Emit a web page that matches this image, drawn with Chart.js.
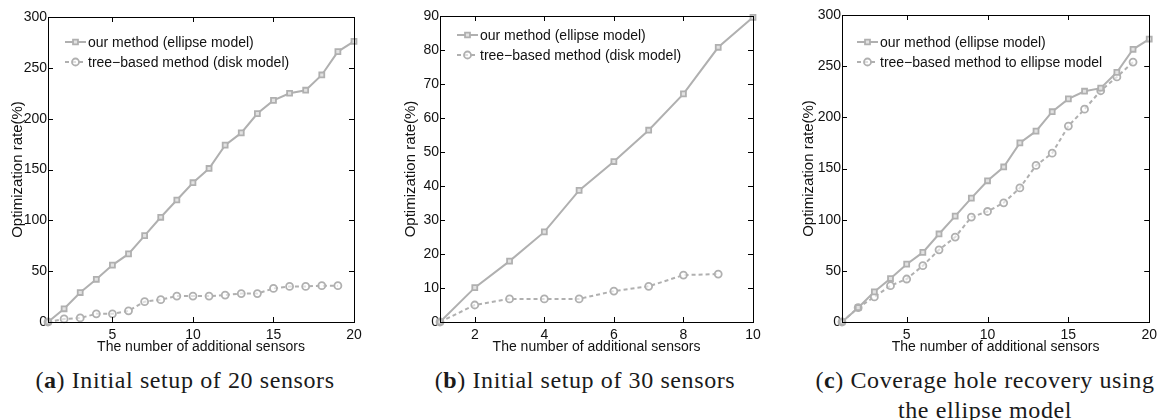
<!DOCTYPE html>
<html>
<head>
<meta charset="utf-8">
<script src="https://cdn.jsdelivr.net/npm/chart.js@4/dist/chart.umd.min.js"></script>
<style>
    body { margin: 0; background: #fff; width: 1162px; height: 420px; position: relative; overflow: hidden; }
    .panel { position: absolute; top: 0; height: 360px; }
    .caption { position: absolute; top: 365px; font-family: "Liberation Serif", serif; font-size: 24px; line-height: 30px; letter-spacing: 0.6px; color: #1a1a1a; text-align: center; white-space: nowrap; }
</style>
</head>
<body>
<div class="panel" style="left:0; width:370px;"><canvas id="chartA"></canvas></div>
<div class="panel" style="left:390px; width:380px;"><canvas id="chartB"></canvas></div>
<div class="panel" style="left:780px; width:382px;"><canvas id="chartC"></canvas></div>
<div class="caption" style="left:25px; width:320px;">(<b>a</b>) Initial setup of 20 sensors</div>
<div class="caption" style="left:425px; width:320px;">(<b>b</b>) Initial setup of 30 sensors</div>
<div class="caption" style="left:800px; width:370px;">(<b>c</b>) Coverage hole recovery using<br>the ellipse model</div>
<script>
// data
const sensors20 = [1, 2, 3, 4, 5, 6, 7, 8, 9, 10, 11, 12, 13, 14, 15, 16, 17, 18, 19, 20];
const sensors10 = [1, 2, 3, 4, 5, 6, 7, 8, 9, 10];

const ourA = [0, 13, 29, 42, 56, 67, 85, 103, 120, 137, 151, 174, 186, 205, 218, 225, 228, 243, 266, 276];
const treeA = [0, 3, 4, 8, 8, 11, 20, 22, 25.5, 25.5, 25.5, 26.5, 28, 28, 33, 35, 35, 35.7, 35.7];

const ourB = [0, 10.1, 17.9, 26.5, 38.7, 47.2, 56.4, 67.1, 80.8, 89.6];
const treeB = [0, 5, 6.8, 6.8, 6.8, 9.1, 10.5, 13.8, 14.1];

const ourC = [0, 14, 29.5, 42.5, 56.5, 68, 86, 103.5, 121, 138, 151.5, 175, 186.5, 205.5, 218, 225.5, 228.5, 244, 266.5, 276.5];
const treeC = [0, 14, 24.5, 35.5, 42, 55, 70.5, 83, 102.5, 108, 116.5, 131, 153, 165, 191.5, 208, 226, 239.5, 254];

const xTicks20 = [5, 10, 15, 20];
const xTicks10 = [2, 4, 6, 8, 10];
const yTicks300 = [0, 50, 100, 150, 200, 250, 300];
const yTicks90 = [0, 10, 20, 30, 40, 50, 60, 70, 80, 90];

const labelOur = "our method (ellipse model)";
const labelTreeDisk = "tree\u2212based method (disk model)";
const labelTreeEllipse = "tree\u2212based method to ellipse model";
const xTitle = "The number of additional sensors";
const yTitle = "Optimization rate(%)";

const GRAY = "#b0b0b0";
const FONT = "'Liberation Sans', Arial, sans-serif";

function pairs(xs, ys) {
    return ys.map((y, i) => ({ x: xs[i], y: y }));
}

// box with inward tick marks on all four sides (matlab look)
const framePlugin = {
    id: "frame",
    afterDraw(chart) {
        const { ctx, chartArea: a, scales } = chart;
        const len = 5;
        ctx.save();
        ctx.strokeStyle = "#000";
        ctx.lineWidth = 1;
        ctx.beginPath();
        scales.x.ticks.forEach(t => {
            const px = Math.round(scales.x.getPixelForValue(t.value)) + 0.5;
            ctx.moveTo(px, a.bottom); ctx.lineTo(px, a.bottom - len);
            ctx.moveTo(px, a.top); ctx.lineTo(px, a.top + len);
        });
        scales.y.ticks.forEach(t => {
            const py = Math.round(scales.y.getPixelForValue(t.value)) + 0.5;
            ctx.moveTo(a.left, py); ctx.lineTo(a.left + len, py);
            ctx.moveTo(a.right, py); ctx.lineTo(a.right - len, py);
        });
        ctx.stroke();
        ctx.strokeRect(Math.round(a.left) + 0.5, Math.round(a.top) + 0.5, Math.round(a.right - a.left), Math.round(a.bottom - a.top));
        ctx.restore();
    }
};

// legend drawn inside the plot, no box
const insideLegend = {
    id: "insideLegend",
    afterDatasetsDraw(chart, args, opts) {
        const { ctx, chartArea: a } = chart;
        ctx.save();
        chart.data.datasets.forEach((ds, i) => {
            const y = a.top + opts.y + i * opts.gap;
            const x0 = a.left + opts.x;
            const x1 = x0 + 21;
            ctx.strokeStyle = ds.borderColor;
            ctx.lineWidth = ds.borderWidth;
            ctx.setLineDash(ds.borderDash || []);
            ctx.beginPath();
            ctx.moveTo(x0, y); ctx.lineTo(x1, y);
            ctx.stroke();
            ctx.setLineDash([]);
            ctx.lineWidth = ds.pointBorderWidth;
            ctx.fillStyle = ds.pointBackgroundColor;
            Chart.helpers.drawPoint(ctx, { pointStyle: ds.pointStyle, radius: ds.pointRadius, borderWidth: ds.pointBorderWidth, rotation: 0 }, (x0 + x1) / 2, y);
            ctx.fillStyle = "#111";
            ctx.font = "14px " + FONT;
            ctx.textBaseline = "middle";
            ctx.fillText(ds.label, x1 + 2, y + 1);
        });
        ctx.restore();
    }
};

function makeChart(id, cfg) {
    const ctx = document.getElementById(id).getContext("2d");
    return new Chart(ctx, {
        type: "line",
        data: {
            datasets: [{
                label: cfg.labels[0],
                data: pairs(cfg.xs, cfg.our),
                borderColor: GRAY,
                borderWidth: 2,
                pointStyle: "rect",
                pointRadius: 3.5,
                pointBorderWidth: 1.8,
                pointBorderColor: GRAY,
                pointBackgroundColor: "#e2e2e2",
                tension: 0,
                clip: false
            }, {
                label: cfg.labels[1],
                data: pairs(cfg.xs, cfg.tree),
                borderColor: GRAY,
                borderWidth: 2,
                borderDash: [4, 3],
                pointStyle: "circle",
                pointRadius: 3.5,
                pointBorderWidth: 1.8,
                pointBorderColor: GRAY,
                pointBackgroundColor: "rgba(255,255,255,0.6)",
                tension: 0,
                clip: false
            }]
        },
        options: {
            responsive: true,
            maintainAspectRatio: false,
            animation: false,
            events: [],
            layout: { padding: { left: 0, top: cfg.top, right: cfg.right, bottom: 0 } },
            plugins: {
                legend: { display: false },
                tooltip: { enabled: false },
                insideLegend: cfg.legend
            },
            scales: {
                x: {
                    type: "linear",
                    min: cfg.xs[0],
                    max: cfg.xs[cfg.xs.length - 1],
                    afterBuildTicks: s => { s.ticks = cfg.xTicks.map(v => ({ value: v })); },
                    afterFit: s => { s.height = 38; },
                    grid: { display: false, drawTicks: false },
                    border: { display: false },
                    ticks: { color: "#111", font: { family: FONT, size: 14 }, padding: 5, maxRotation: 0, autoSkip: false },
                    title: { display: true, text: xTitle, color: "#111", font: { family: FONT, size: 14 }, padding: { top: 0, bottom: 4 } }
                },
                y: {
                    min: 0,
                    max: cfg.yTicks[cfg.yTicks.length - 1],
                    afterBuildTicks: s => { s.ticks = cfg.yTicks.map(v => ({ value: v })); },
                    afterFit: s => { s.width = cfg.yWidth; },
                    grid: { display: false, drawTicks: false },
                    border: { display: false },
                    ticks: { color: "#111", font: { family: FONT, size: 14 }, padding: 1, autoSkip: false },
                    title: { display: true, text: yTitle, color: "#111", font: { family: FONT, size: 15 }, padding: { top: cfg.titlePad, bottom: 0 } }
                }
            }
        },
        plugins: [framePlugin, insideLegend]
    });
}

makeChart("chartA", {
    xs: sensors20, our: ourA, tree: treeA, labels: [labelOur, labelTreeDisk],
    xTicks: xTicks20, yTicks: yTicks300,
    top: 17, right: 16, yWidth: 48, titlePad: 9,
    legend: { x: 17, y: 25, gap: 20 }
});
makeChart("chartB", {
    xs: sensors10, our: ourB, tree: treeB, labels: [labelOur, labelTreeDisk],
    xTicks: xTicks10, yTicks: yTicks90,
    top: 16, right: 17, yWidth: 50, titlePad: 12,
    legend: { x: 17, y: 19, gap: 20 }
});
makeChart("chartC", {
    xs: sensors20, our: ourC, tree: treeC, labels: [labelOur, labelTreeEllipse],
    xTicks: xTicks20, yTicks: yTicks300,
    top: 15, right: 10, yWidth: 62, titlePad: 20,
    legend: { x: 15, y: 27, gap: 20 }
});
</script>
</body>
</html>
